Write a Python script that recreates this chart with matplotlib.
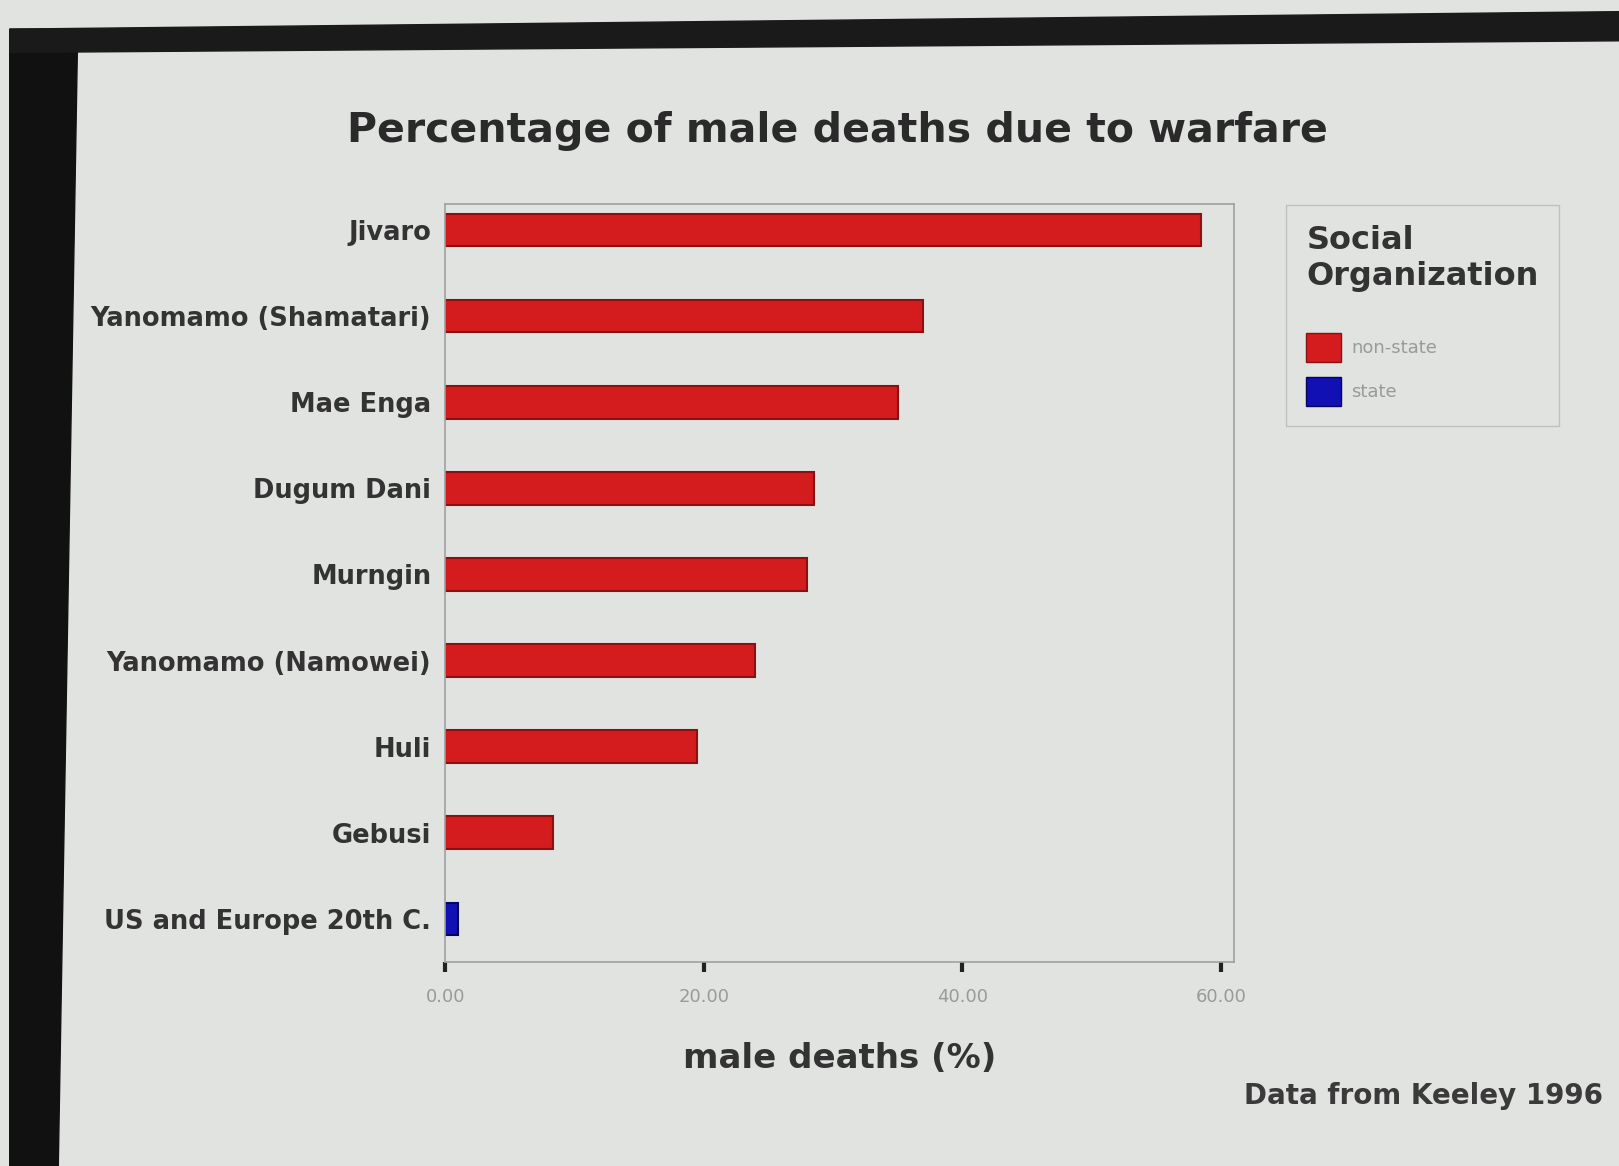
import matplotlib
matplotlib.use("Agg")
import matplotlib.pyplot as plt
from matplotlib.patches import Patch, Polygon

# ---- data ----
categories = ["Jivaro", "Yanomamo (Shamatari)", "Mae Enga", "Dugum Dani", "Murngin",
              "Yanomamo (Namowei)", "Huli", "Gebusi", "US and Europe 20th C."]
male_deaths = [58.5, 37.0, 35.0, 28.5, 28.0, 24.0, 19.5, 8.3, 1.0]
organization = ["non-state"] * 8 + ["state"]
xticks = [0, 20, 40, 60]
xtick_labels = ["0.00", "20.00", "40.00", "60.00"]

colors = {"non-state": "#d41c1f", "state": "#1010b4"}
edges = {"non-state": "#8a1012", "state": "#05055e"}

fig = plt.figure(figsize=(16.19, 11.66), dpi=100)
bg = "#e1e3e0"
fig.patch.set_facecolor(bg)

# photo border (screen bezel)
fig.patches.append(Polygon([[0.006, 0.0], [0.036, 0.0], [0.048, 0.975], [0.006, 0.975]],
                           closed=True, transform=fig.transFigure, color="#111111", zorder=0))
fig.patches.append(Polygon([[0.006, 0.955], [1.0, 0.965], [1.0, 0.99], [0.006, 0.975]],
                           closed=True, transform=fig.transFigure, color="#1a1a1a", zorder=0))

ax = fig.add_axes([0.275, 0.175, 0.487, 0.65])
ax.set_facecolor(bg)

ypos = list(range(len(categories)))
for y, v, org in zip(ypos, male_deaths, organization):
    ax.barh(y, v, height=0.38, color=colors[org], edgecolor=edges[org], linewidth=1.5)

ax.set_ylim(len(categories) - 0.5, -0.3)
ax.set_xlim(0, 61)
ax.set_yticks(ypos)
ax.set_yticklabels(categories, fontsize=18.5, fontweight="bold", color="#333333")
ax.tick_params(axis="y", length=0, pad=10)
ax.set_xticks(xticks)
ax.set_xticklabels(xtick_labels, fontsize=13, color="#9a9a9a")
ax.tick_params(axis="x", length=7, width=3, color="#222222", direction="out", pad=12)
for s in ax.spines.values():
    s.set_color("#a0a0a0")
    s.set_linewidth(1.2)

ax.set_xlabel("male deaths (%)", fontsize=24.5, fontweight="bold", color="#333333", labelpad=26)
fig.text(0.517, 0.888, "Percentage of male deaths due to warfare", ha="center", va="center",
         fontsize=29.5, fontweight="bold", color="#2a2a2a")
fig.text(0.99, 0.06, "Data from Keeley 1996", ha="right", va="center",
         fontsize=20, fontweight="bold", color="#3a3a3a")

handles = [Patch(facecolor=colors[k], edgecolor=edges[k], label=k) for k in ["non-state", "state"]]
leg = fig.legend(handles=handles, title="Social\nOrganization", loc="upper left",
                 bbox_to_anchor=(0.789, 0.832), frameon=True, fontsize=13,
                 title_fontproperties={"weight": "bold", "size": 23},
                 handlelength=1.9, handleheight=2.1, borderpad=1.1, labelspacing=0.8,
                 handletextpad=0.6)
leg._legend_box.align = "left"
leg._legend_box.sep = 30
leg.get_frame().set_facecolor(bg)
leg.get_frame().set_edgecolor("#b8b8b8")
leg.get_frame().set_boxstyle("square", pad=0)
leg.get_title().set_color("#333333")
for t in leg.get_texts():
    t.set_color("#9a9a9a")

fig.savefig("out.png", dpi=100, facecolor=fig.get_facecolor())
